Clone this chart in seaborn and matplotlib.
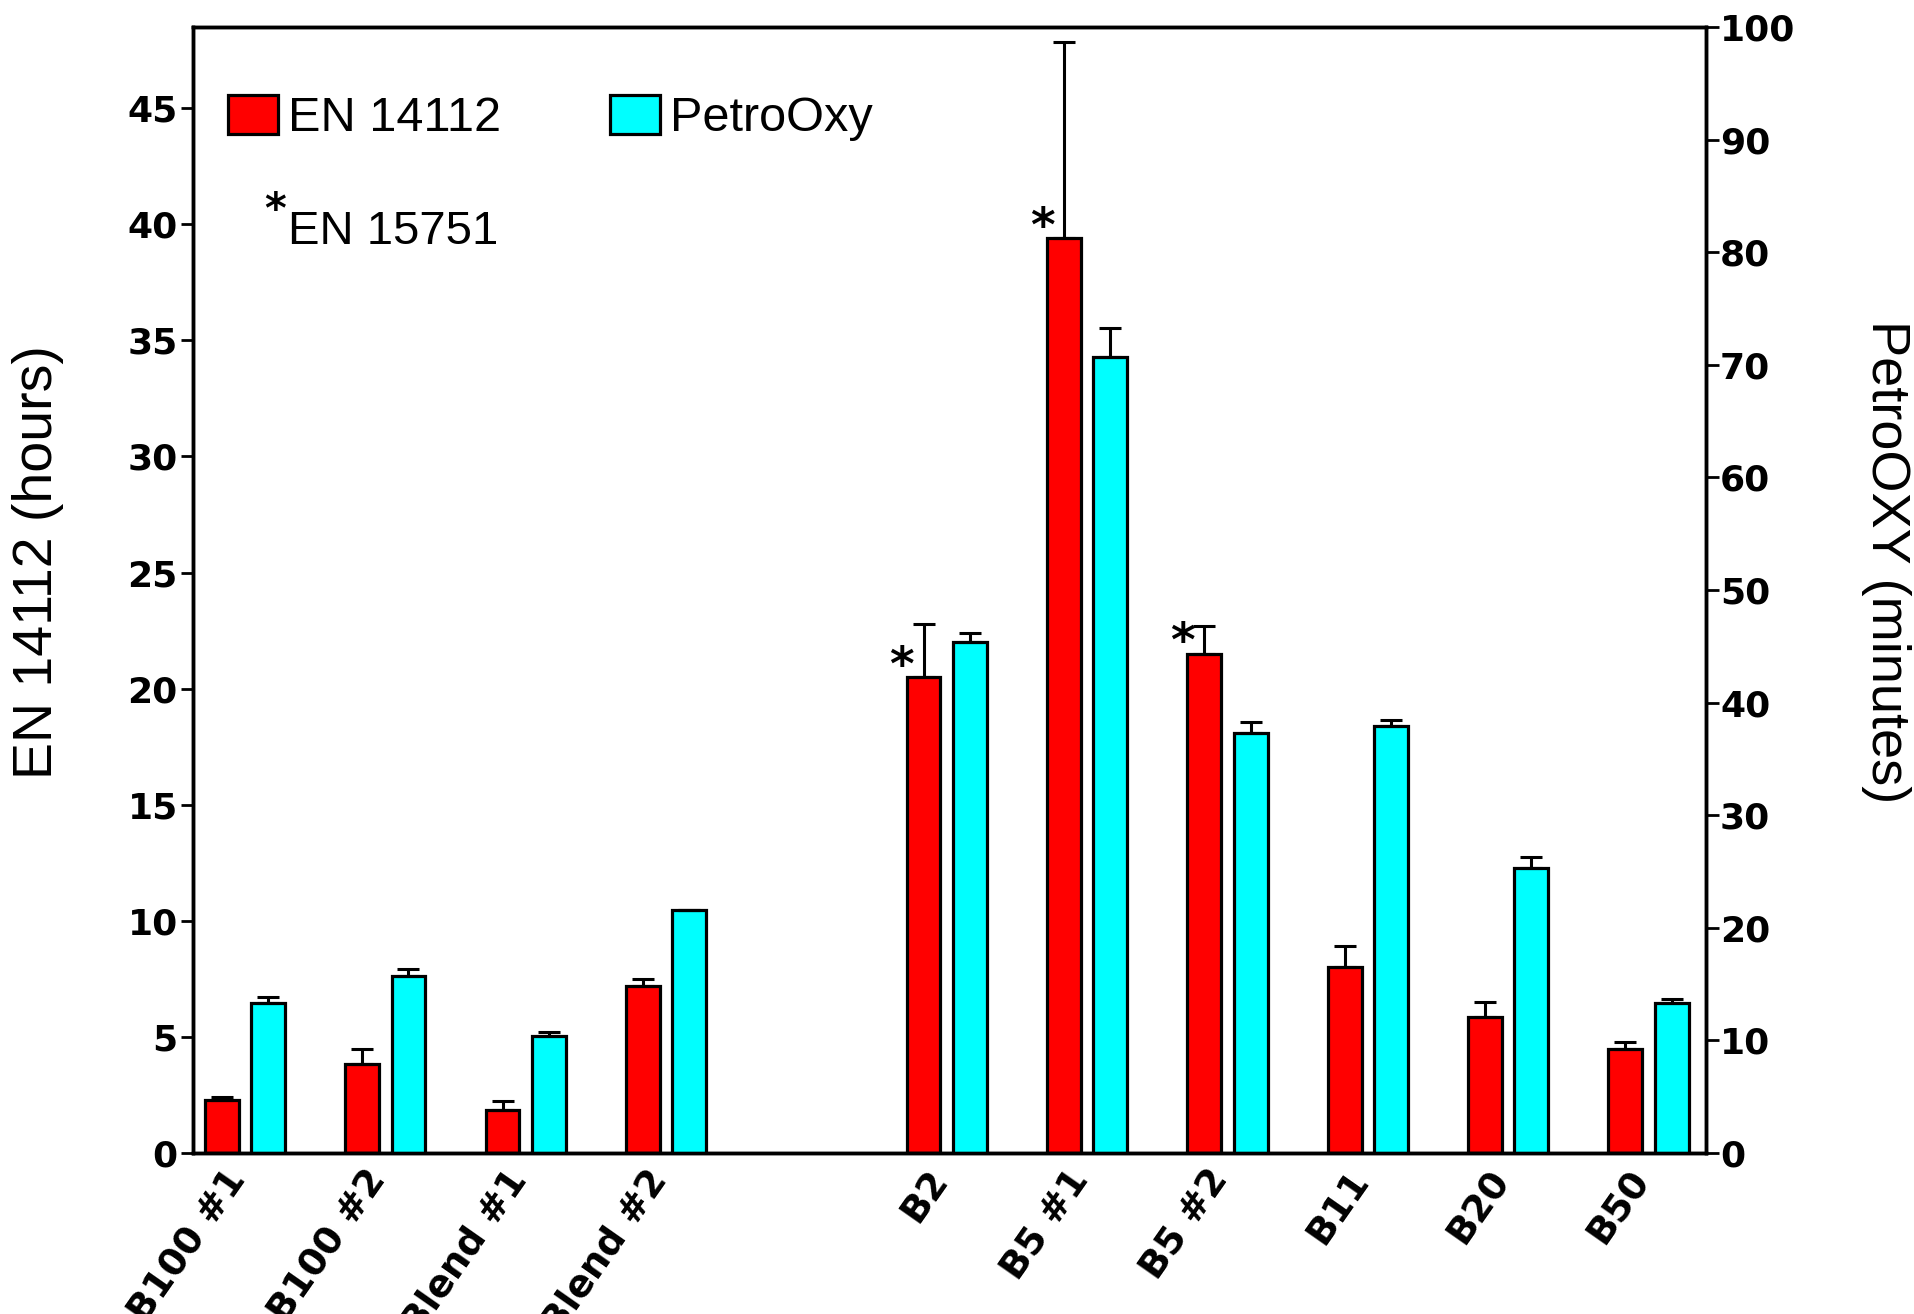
import numpy as np
import pandas as pd
import matplotlib
matplotlib.use("Agg")
import matplotlib.pyplot as plt
import matplotlib.patches as mpatches
from matplotlib.transforms import ScaledTranslation
import seaborn as sns

# ---- data ----
samples = ["B100 #1", "B100 #2", "Blend #1", "Blend #2", "B2", "B5 #1", "B5 #2", "B11", "B20", "B50"]
order = ["B100 #1", "B100 #2", "Blend #1", "Blend #2", " ", "B2", "B5 #1", "B5 #2", "B11", "B20", "B50"]
en14112_hours = [2.3, 3.85, 1.85, 7.2, 20.5, 39.4, 21.5, 8.0, 5.85, 4.47]
en14112_err = [0.12, 0.65, 0.38, 0.3, 2.3, 8.45, 1.2, 0.93, 0.64, 0.3]
petrooxy_min = [13.3, 15.75, 10.4, 21.6, 45.4, 70.7, 37.3, 37.9, 25.3, 13.3]
petrooxy_err = [0.6, 0.6, 0.35, 0.0, 0.8, 2.6, 1.0, 0.55, 1.0, 0.35]
starred = ["B2", "B5 #1", "B5 #2"]
methods = ["EN 14112", "PetroOxy"]
colors = {"EN 14112": "#ff0000", "PetroOxy": "#00ffff"}
left_ticks = list(range(0, 50, 5))
right_ticks = list(range(0, 101, 10))

red_df = pd.DataFrame({"sample": samples, "value": en14112_hours, "err": en14112_err, "method": "EN 14112"})
cyan_df = pd.DataFrame({"sample": samples, "value": petrooxy_min, "err": petrooxy_err, "method": "PetroOxy"})

sns.set_theme(style="white")
plt.rcParams["font.family"] = ["Liberation Sans", "DejaVu Sans"]
plt.rcParams["text.color"] = "black"
plt.rcParams["axes.labelcolor"] = "black"
plt.rcParams["xtick.color"] = "black"
plt.rcParams["ytick.color"] = "black"

fig = plt.figure(figsize=(19.15, 13.14), dpi=100)
ax = fig.add_axes([0.1008, 0.1225, 0.7901, 0.857])
ax2 = ax.twinx()

lw = 2.3
bar_kw = dict(x="sample", y="value", hue="method", hue_order=methods, order=order,
              palette=colors, width=0.66, gap=0.27, errorbar=None, legend=False,
              edgecolor="black", linewidth=lw, saturation=1, dodge=True)
sns.barplot(data=red_df, ax=ax, **bar_kw)
sns.barplot(data=cyan_df, ax=ax2, **bar_kw)

def add_err(axis, df):
    bars = [p for p in axis.patches if p.get_height() > 0]
    bars = sorted(bars, key=lambda p: p.get_x())
    xs = [p.get_x() + p.get_width() / 2 for p in bars]
    axis.errorbar(xs, df["value"], yerr=[np.zeros(len(df)), df["err"]], fmt="none",
                  ecolor="black", elinewidth=2.2, capsize=8, capthick=2.2, zorder=1)
    return bars

red_bars = add_err(ax, red_df)
add_err(ax2, cyan_df)

# asterisks for EN 15751
for p, s in zip(red_bars, samples):
    if s in starred:
        ax.annotate("*", xy=(p.get_x(), p.get_height()), xytext=(-3.5, -9),
                    textcoords="offset points", ha="center", va="bottom",
                    fontsize=34, fontweight="bold", family="DejaVu Sans", color="black")

ax.set_xlim(-0.37, 10.41)
ax.set_ylim(0, 48.5)
ax2.set_ylim(0, 100)
ax.set_yticks(left_ticks)
ax2.set_yticks(right_ticks)

tick_font = dict(family="DejaVu Sans", weight="bold", size=26)
ax.set_yticklabels([str(t) for t in left_ticks], fontdict=tick_font)
ax2.set_yticklabels([str(t) for t in right_ticks], fontdict=tick_font)
ax.tick_params(axis="y", direction="out", length=9, width=2, pad=2, left=True, colors="black")
ax2.tick_params(axis="y", direction="out", length=9, width=2, pad=1, right=True, colors="black")
ax.tick_params(axis="x", length=0, pad=15, colors="black")

ax.set_xticks(range(len(order)))
ax.set_xticklabels(order, rotation=55, ha="right", va="center", rotation_mode="anchor",
                   fontsize=27, family="DejaVu Sans", fontweight="bold")
shift = ScaledTranslation(-6 / 100, 0, fig.dpi_scale_trans)
for lab in ax.get_xticklabels():
    lab.set_transform(lab.get_transform() + shift)

ax.set_xlabel("")
ax2.set_xlabel("")
ax.set_ylabel("EN 14112 (hours)", fontsize=40, rotation=90, ha="center", va="center",
              rotation_mode="anchor", color="black")
ax.yaxis.set_label_coords(-0.1025, 0.525)
ax2.set_ylabel("PetroOXY (minutes)", fontsize=39, rotation=-90, ha="center", va="center",
               rotation_mode="anchor", color="black")
ax2.yaxis.set_label_coords(1.119, 0.525)

for a in (ax, ax2):
    for sp in a.spines.values():
        sp.set_linewidth(2.5)
        sp.set_color("black")

handles = [mpatches.Patch(facecolor=colors[m], edgecolor="black", linewidth=lw, label=m) for m in methods]
leg = ax.legend(handles=handles, loc="upper left", bbox_to_anchor=(0.023, 0.94), ncol=2,
                frameon=False, fontsize=35, handlelength=1.03, handleheight=0.86,
                handletextpad=0.2, columnspacing=2.25, borderaxespad=0, borderpad=0)
for t in leg.get_texts():
    t.set_color("black")

ax.text(0.047, 0.855, "*", transform=ax.transAxes, fontsize=30, fontweight="bold",
        ha="left", va="top", family="DejaVu Sans", color="black")
ax.text(0.063, 0.807, "EN 15751", transform=ax.transAxes, fontsize=34, ha="left",
        va="baseline", color="black")

fig.savefig("out.png", dpi=100)
